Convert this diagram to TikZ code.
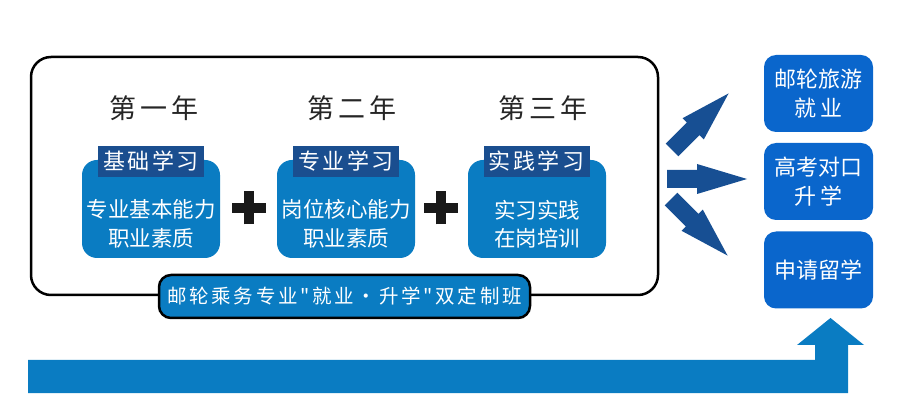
\documentclass[tikz,border=0pt]{standalone}
\usepackage{fontspec}
\setmainfont{Noto Sans CJK SC}
\newfontfamily\cjkwide[LetterSpace=15]{Noto Sans CJK SC}
\newfontfamily\cjkmid[LetterSpace=12]{Noto Sans CJK SC}
\newfontfamily\cjkband[LetterSpace=14]{Noto Sans CJK SC}
\usepackage{tikz}
\usetikzlibrary{positioning}
\definecolor{boxblue}{HTML}{0A7CC2}
\definecolor{headblue}{HTML}{1A4E8F}
\definecolor{goalblue}{HTML}{0A66CC}
\definecolor{arrowblue}{HTML}{174F93}

\tikzset{
  yearlabel/.style={font=\fontsize{27}{30}\selectfont\cjkwide, text=black!85},
  stagebox/.style={fill=boxblue, rounded corners=15pt, minimum width=138pt, minimum height=98pt, inner sep=0pt},
  stagehead/.style={fill=headblue, text=white, minimum width=106pt, minimum height=31pt, inner sep=0pt, font=\fontsize{22}{24}\selectfont\cjkmid},
  stagetext/.style={text=white, align=center, font=\fontsize{21.5}{28.5}\selectfont},
  goalbox/.style={fill=goalblue, text=white, rounded corners=12pt, minimum width=109pt, minimum height=77pt, inner sep=0pt, align=center, font=\fontsize{22}{29}\selectfont},
  plusbar/.style={line width=10pt, black!90},
  pics/fatarrow/.style={code={
    \fill[arrowblue] (0,-9) -- (30,-9) -- (30,-15) -- (80,0) -- (30,15) -- (30,9) -- (0,9) -- cycle;
  }}
}

\begin{document}
\begin{tikzpicture}[x=1pt,y=-1pt]
  \useasboundingbox (0,0) rectangle (902,419);

  % 外框
  \draw[line width=2.5pt, rounded corners=20pt] (31,57) rectangle (658,295);

  % 三个年级
  \node[yearlabel] (y1) at (154,108) {第一年};
  \node[yearlabel] (y2) at (352,108) {第二年};
  \node[yearlabel] (y3) at (543,108) {第三年};

  % 蓝色学习模块
  \node[stagebox] (s1) at (151,209) {};
  \node[stagebox] (s2) at (346,209) {};
  \node[stagebox] (s3) at (537,209) {};

  \node[stagehead] (h1) at (151,161.5) {基础学习};
  \node[stagehead] (h2) at (346,161.5) {专业学习};
  \node[stagehead] (h3) at (536.5,161.5) {实践学习};

  \node[stagetext] (t1) at (151,224) {专业基本能力\\职业素质};
  \node[stagetext] (t2) at (346,224) {岗位核心能力\\职业素质};
  \node[stagetext] (t3) at (537,224) {实习实践\\在岗培训};

  % 加号
  \path (249,208) coordinate (p1)
        (441,208) coordinate (p2);
  \foreach \p in {p1,p2} {
    \draw[plusbar] ([xshift=-17pt]\p) -- ([xshift=17pt]\p);
    \draw[plusbar] ([yshift=-16.5pt]\p) -- ([yshift=16.5pt]\p);
  }

  % 底部标签
  \node[fill=boxblue, draw=black, line width=2.5pt, rounded corners=12pt,
        minimum width=371pt, minimum height=43pt, inner sep=0pt,
        text=white, font=\fontsize{19.5}{22}\selectfont\cjkband] (banner) at (344.5,296.5)
        {邮轮乘务专业"就业·升学"双定制班};

  % 三个箭头
  \pic[rotate=45]  at (672,150) {fatarrow};
  \pic             at (667,179) {fatarrow};
  \pic[rotate=-45] at (671,199) {fatarrow};

  % 右侧出路
  \node[goalbox] (g1) at (818.5,93.5)  {邮轮旅游\\就 业};
  \node[goalbox] (g2) at (818.5,181.5) {高考对口\\升 学};
  \node[goalbox] (g3) at (818.5,270)   {申请留学};

  % 底部大箭头
  \fill[boxblue] (28,360) -- (815,360) -- (815,345) -- (797,345) -- (830.5,318)
    -- (864,345) -- (848,345) -- (848,393) -- (28,393) -- cycle;
\end{tikzpicture}
\end{document}
